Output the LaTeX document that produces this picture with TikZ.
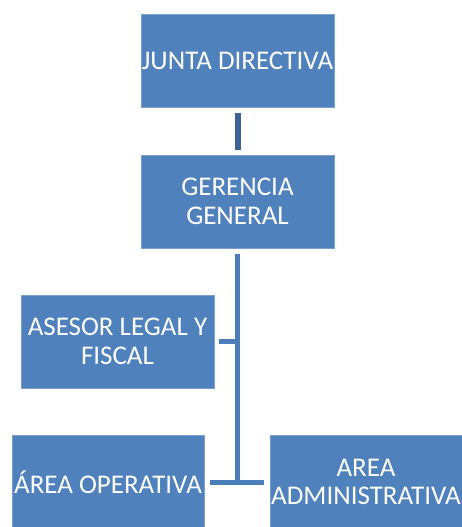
\documentclass[tikz,border=0pt]{standalone}
\usepackage{fontspec}
\setmainfont{Carlito}
\usetikzlibrary{calc}
\definecolor{boxblue}{HTML}{4F81BD}
\definecolor{boxedge}{HTML}{7BA0CD}
\definecolor{linkblue}{HTML}{4A7EBB}
\definecolor{linkdark}{HTML}{3C6496}
\tikzset{
    orgbox/.style={rectangle, fill=boxblue, draw=boxedge, line width=0.8pt,
        minimum width=193pt, minimum height=93pt, inner sep=0pt,
        text=white, align=center, font=\fontsize{27}{28.5}\selectfont},
    link/.style={draw=linkblue, line width=5pt},
}

\begin{document}
\begin{tikzpicture}[x=1pt,y=-1pt]

            \useasboundingbox (0,0) rectangle (462,527);
            \clip (0,0) rectangle (462,527);

            \node[orgbox] (junta) at (237.5,61) {JUNTA DIRECTIVA};
            \node[orgbox] (gerencia) at (237.5,201.5) {GERENCIA\\GENERAL};
            \node[orgbox] (asesor) at (117.5,341.5) {ASESOR LEGAL Y\\FISCAL};
            \node[orgbox, minimum width=192pt] (operativa) at (108,482) {ÁREA OPERATIVA};
            \node[orgbox, minimum width=192pt] (admin) at (366,482) {AREA\\ADMINISTRATIVA};

            \coordinate (trunk) at (gerencia.south |- operativa.east);

            \draw[link, draw=linkdark, line width=6pt] ($(junta.south)+(0,5)$) -- ($(gerencia.north)+(0,-5)$);
            \draw[link] ($(gerencia.south)+(0,6)$) -- ($(trunk)+(0,2.5)$);
            \draw[link] ($(asesor.east)+(5,0)$) -- (asesor.east -| trunk);
            \draw[link] ($(operativa.east)+(6,0)$) -- ($(admin.west)+(-6,0)$);
        \end{tikzpicture}
\end{document}
